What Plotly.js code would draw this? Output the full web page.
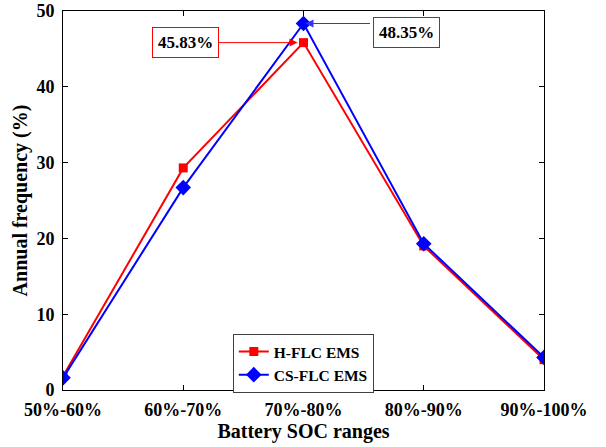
<!DOCTYPE html>
<html>
<head>
<meta charset="utf-8">
<script src="https://cdn.plot.ly/plotly-3.0.1.min.js"></script>
<style>html,body{margin:0;padding:0;background:#fff;}#chart{width:606px;height:447px;}</style>
</head>
<body>
<div id="chart"></div>
<script>
const categories = ["50%-60%", "60%-70%", "70%-80%", "80%-90%", "90%-100%"];
const hflc = [1.8, 29.3, 45.83, 19.0, 4.0];
const csflc = [1.6, 26.7, 48.35, 19.3, 4.3];
const seriesNames = ["H-FLC EMS", "CS-FLC EMS"];
const yTicks = [0, 10, 20, 30, 40, 50];

const F = "'Times New Roman', 'Liberation Serif', serif";
const xIdx = categories.map((c, i) => i);

const traces = [
  {x: xIdx, y: hflc, name: "<b>" + seriesNames[0] + "</b>", type: "scatter", mode: "lines+markers",
   line: {color: "#ff0000", width: 2}, marker: {symbol: "square", size: 9, color: "#ff0000"}},
  {x: xIdx, y: csflc, name: "<b>" + seriesNames[1] + "</b>", type: "scatter", mode: "lines+markers",
   line: {color: "#0000ff", width: 2}, marker: {symbol: "diamond", size: 12, color: "#0000ff"}}
];

const layout = {
  width: 606, height: 447,
  margin: {l: 63, r: 62, t: 11, b: 57},
  paper_bgcolor: "#fff", plot_bgcolor: "#fff",
  font: {family: F, size: 17, color: "#000"},
  showlegend: true,
  legend: {x: 0.353, y: 0.148, xanchor: "left", yanchor: "top",
    bordercolor: "#404040", borderwidth: 1, bgcolor: "#fff",
    font: {family: F, size: 15.5, color: "#000"},
    tracegroupgap: 0, itemwidth: 30},
  xaxis: {range: [0, 4], tickmode: "array", tickvals: xIdx,
    ticktext: categories.map(c => "<b>" + c + "</b>"),
    showgrid: false, zeroline: false, showline: true, linecolor: "#000", linewidth: 1,
    mirror: "ticks", ticks: "inside", ticklen: 5, tickcolor: "#000", ticklabelstandoff: 3,
    tickfont: {family: F, size: 18, color: "#000"},
    title: {text: "<b>Battery SOC ranges</b>", font: {family: F, size: 20, color: "#000"}, standoff: 5}},
  yaxis: {range: [0, 50], tickmode: "array", tickvals: yTicks,
    ticktext: yTicks.map(v => "<b>" + v + "</b>"),
    showgrid: false, zeroline: false, showline: true, linecolor: "#000", linewidth: 1,
    mirror: "ticks", ticks: "inside", ticklen: 5, tickcolor: "#000", ticklabelstandoff: 4,
    tickfont: {family: F, size: 18, color: "#000"},
    title: {text: "<b>Annual frequency (%)</b>", font: {family: F, size: 20, color: "#000"}, standoff: 3}},
  annotations: [
    {x: 2, y: hflc[2], xref: "x", yref: "y", text: "<b>" + hflc[2].toFixed(2) + "%</b>",
     showarrow: true, ax: -118, ay: 0, arrowcolor: "#ff0000", arrowwidth: 1, arrowhead: 2, arrowsize: 1.6,
     standoff: 6, bordercolor: "#ff0000", borderwidth: 1, borderpad: 5, bgcolor: "#fff",
     font: {family: F, size: 17, color: "#000"}},
    {x: 2, y: csflc[2], xref: "x", yref: "y", text: "",
     showarrow: true, ax: 68, ay: 0, arrowcolor: "#3333ff", arrowwidth: 1, arrowhead: 2, arrowsize: 1.6,
     standoff: 2},
    {x: 2.86, y: 47.2, xref: "x", yref: "y", text: "<b>" + csflc[2].toFixed(2) + "%</b>",
     showarrow: false, bordercolor: "#3333ff", borderwidth: 1, borderpad: 5, bgcolor: "#fff",
     font: {family: F, size: 17, color: "#000"}}
  ]
};

Plotly.newPlot("chart", traces, layout, {displayModeBar: false, staticPlot: true});
</script>
</body>
</html>
